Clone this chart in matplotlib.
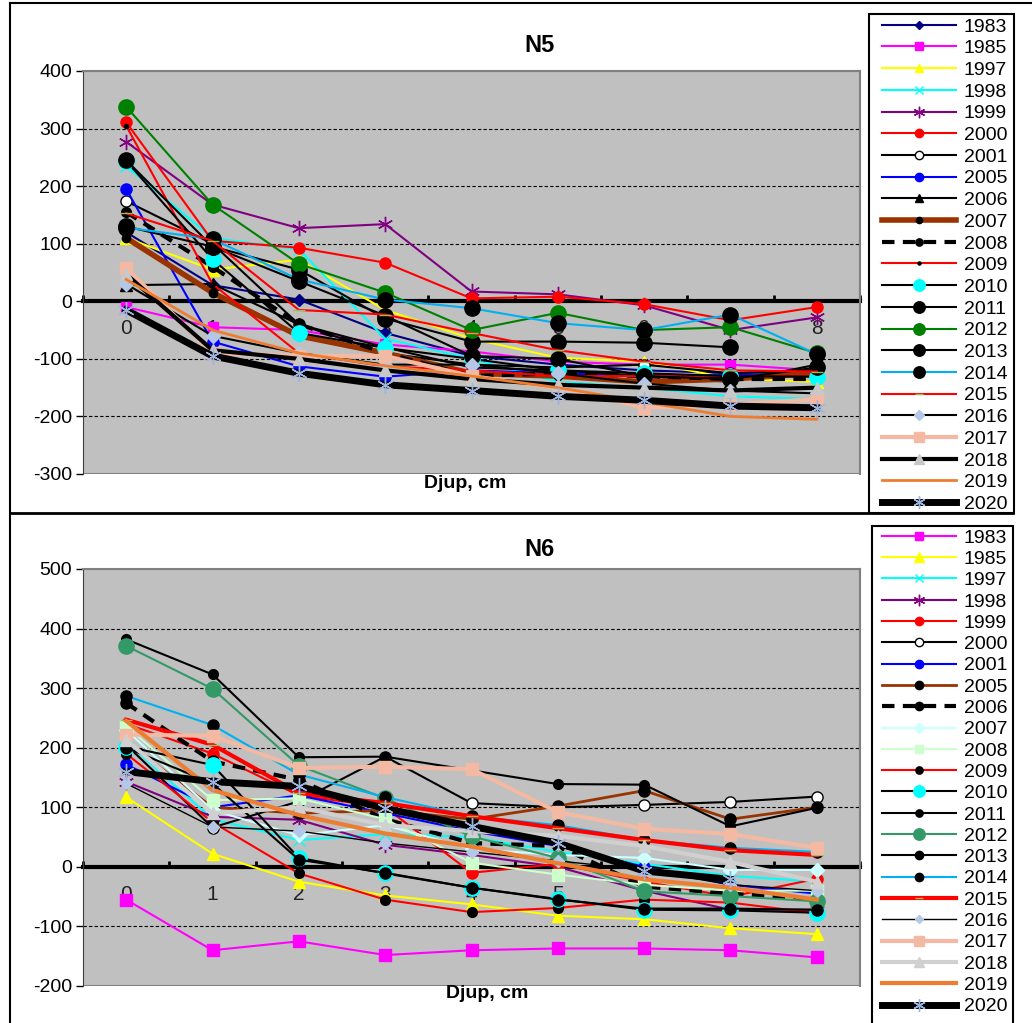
import numpy as np
import matplotlib.pyplot as plt
from matplotlib.patches import Rectangle
from matplotlib.lines import Line2D

plt.rcParams['font.family'] = ['Liberation Sans', 'DejaVu Sans']
plt.rcParams['axes.unicode_minus'] = False

nan = np.nan
depth = [0, 1, 2, 3, 4, 5, 6, 7, 8]

# ---- N5 ----
n5_years = ["1983", "1985", "1997", "1998", "1999", "2000", "2001", "2005", "2006", "2007", "2008",
            "2009", "2010", "2011", "2012", "2013", "2014", "2015", "2016", "2017", "2018", "2019", "2020"]
n5_values = [
    [120, 28, 3, -55, -95, -110, -120, -125, -120],      # 1983
    [-10, -45, -50, -75, -87, -105, -110, -110, -120],   # 1985
    [110, 55, 72, -15, -65, -98, -105, -134, -140],      # 1997
    [235, 110, 90, -65, -100, -140, -150, -165, -170],   # 1998
    [277, 168, 127, 134, 17, 12, -7, -50, -28],          # 1999
    [311, 105, 93, 67, 5, 8, -5, -33, -10],              # 2000
    [174, 100, -40, -90, -110, -115, -110, -125, -120],  # 2001
    [195, -70, -113, -131, -120, -125, -130, -128, -125],  # 2005
    [28, 30, -40, -80, -115, -120, -130, -140, -110],    # 2006
    [110, 15, -60, -90, -125, -130, -140, -135, -125],   # 2007
    [155, 60, -40, -90, -130, -125, -130, -135, -135],   # 2008
    [305, 30, -90, -113, -120, -130, -130, -130, -130],  # 2009
    [244, 73, -55, -81, -100, -120, -125, -130, -131],   # 2010
    [245, 95, 55, -30, -70, -70, -72, -80, nan],         # 2011
    [338, 168, 65, 15, -50, -20, -50, -45, -90],         # 2012
    [130, 95, 35, -25, -95, -100, -130, -135, -115],     # 2013
    [128, 108, 38, 3, -12, -38, -50, -23, -92],          # 2014
    [153, 105, -15, -23, -55, -85, -105, -120, -122],    # 2015
    [30, -60, -90, -110, -110, -125, -143, -155, -160],  # 2016
    [58, -90, -95, -95, -130, -150, -185, -180, -170],   # 2017
    [47, -85, -100, -120, -135, -145, -150, -155, -150],  # 2018
    [38, -50, -90, -112, -130, -150, -175, -200, -205],  # 2019
    [-15, -95, -125, -145, -155, -165, -172, -182, -185],  # 2020
]

# ---- N6 ----
n6_years = ["1983", "1985", "1997", "1998", "1999", "2000", "2001", "2005", "2006", "2007", "2008",
            "2009", "2010", "2011", "2012", "2013", "2014", "2015", "2016", "2017", "2018", "2019", "2020"]
n6_values = [
    [-55, -140, -125, -148, -140, -137, -137, -140, -152],  # 1983
    [117, 22, -25, -48, -63, -82, -88, -103, -113],      # 1985
    [210, 80, 45, 55, 50, 25, 5, -15, -25],              # 1997
    [143, 84, 79, 37, 20, 0, -40, -72, -72],             # 1998
    [240, 190, 120, 100, -10, 5, -25, -50, -20],         # 1999
    [205, 66, 110, 185, 107, 100, 104, 109, 118],        # 2000
    [172, 100, 120, 90, 60, 35, 0, -30, -45],            # 2001
    [210, 100, 90, 95, 80, 102, 128, 80, 100],           # 2005
    [275, 177, 146, 80, 40, 35, -33, -45, -55],          # 2006
    [230, 95, 53, 70, 30, 20, 15, -5, -5],               # 2007
    [236, 112, 115, 80, 7, -13, -30, -40, -40],          # 2008
    [190, 75, -11, -55, -76, -69, -55, -60, -78],        # 2009
    [202, 171, 15, -11, -35, -54, -72, -73, -77],        # 2010
    [382, 323, 184, 185, 162, 139, 138, 68, 99],         # 2011
    [371, 299, 170, 115, 51, 15, -41, -49, -58],         # 2012
    [200, 140, 12, -10, -35, -55, -70, -70, -72],        # 2013
    [287, 238, 155, 117, 85, 70, 45, 32, 25],            # 2014
    [247, 205, 124, 107, 85, 65, 45, 28, 20],            # 2015
    [140, 67, 60, 40, 25, 10, -5, -30, -40],             # 2016
    [222, 220, 166, 168, 164, 92, 64, 55, 32],           # 2017
    [213, 90, 100, 70, 60, 52, 35, 8, -25],              # 2018
    [245, 129, 87, 56, 34, 6, -21, -35, -55],            # 2019
    [160, 143, 135, 98, 68, 40, -7, -21, nan],           # 2020
]

STAR = (6, 2, 0)


def st(color, marker='o', mfc=None, mec=None, ms=7, lw=1.5, ls='-'):
    mfc = mfc or color
    return dict(color=color, marker=marker, mfc=mfc, mec=mec or mfc, ms=ms, lw=lw, ls=ls)


n5_styles = [
    st('#000080', 'D', ms=6),
    st('#FF00FF', 's', ms=7),
    st('#FFFF00', '^', ms=8),
    st('#00FFFF', 'x', ms=8),
    st('#800080', STAR, ms=11),
    st('#FF0000', 'o', ms=8),
    st('black', 'o', mfc='white', mec='black', ms=8),
    st('#0000FF', 'o', ms=8),
    st('black', '^', ms=8),
    st('#993300', 'o', mfc='black', ms=6, lw=4),
    st('black', 'o', ms=7, lw=3, ls=(0, (3, 2))),
    st('#FF0000', 'o', mfc='black', ms=3),
    st('black', 'o', mfc='#00FFFF', ms=11),
    st('black', 'o', ms=11),
    st('#008000', 'o', ms=11),
    st('black', 'o', ms=11),
    st('#00B0F0', 'o', mfc='black', ms=11),
    st('#FF0000', '_', mfc='#9BBB59', ms=8),
    st('black', 'D', mfc='#B4C7E7', ms=7),
    st('#F4B9A3', 's', ms=9, lw=3),
    st('black', '^', mfc='#C8C8C8', ms=9, lw=3),
    st('#ED7D31', 'None', lw=2),
    st('black', STAR, mfc='#9DB4E0', ms=12, lw=5),
]

n6_styles = [
    st('#FF00FF', 's', ms=8),
    st('#FFFF00', '^', ms=9),
    st('#00FFFF', 'x', ms=8),
    st('#800080', STAR, ms=11),
    st('#FF0000', 'o', ms=8),
    st('black', 'o', mfc='white', mec='black', ms=8),
    st('#0000FF', 'o', ms=8),
    st('#993300', 'o', mfc='black', ms=8, lw=2),
    st('black', 'o', ms=8, lw=3, ls=(0, (3, 2))),
    st('#CCFFFF', 'D', ms=7),
    st('#CCFFCC', 's', ms=8),
    st('#FF0000', 'o', mfc='black', ms=7),
    st('black', 'o', mfc='#00FFFF', ms=11),
    st('black', 'o', ms=7),
    st('#339966', 'o', ms=11),
    st('black', 'o', ms=8),
    st('#00B0F0', 'o', mfc='black', ms=8),
    st('#FF0000', '_', mfc='#9BBB59', ms=8, lw=3),
    st('black', 'D', mfc='#B4C7E7', ms=6, lw=1),
    st('#F4B9A3', 's', ms=9, lw=3),
    st('#D0D0D0', '^', ms=9, lw=3),
    st('#ED7D31', 'None', lw=3),
    st('black', STAR, mfc='#9DB4E0', ms=12, lw=5),
]

W, H = 1032, 1023
fig = plt.figure(figsize=(W / 100, H / 100), dpi=100)


def fx(x):
    return x / W


def fy(y):
    return 1 - y / H


def fig_line(x0, y0, x1, y1, lw=1.5):
    fig.add_artist(Line2D([fx(x0), fx(x1)], [fy(y0), fy(y1)], transform=fig.transFigure,
                          color='black', lw=lw))


def fig_rect(x0, y0, x1, y1, lw=1.5):
    fig.add_artist(Rectangle((fx(x0), fy(y1)), fx(x1) - fx(x0), fy(y0) - fy(y1),
                             transform=fig.transFigure, fill=False, ec='black', lw=lw))


def draw_panel(rect, years, values, styles, ylo, yhi, title, title_xy, xlab_xy, leg_xy, leg_space):
    ax = fig.add_axes(rect)
    ax.set_facecolor('#C0C0C0')
    for y in range(ylo + 100, yhi, 100):
        if y != 0:
            ax.axhline(y, color='black', lw=0.8, ls=(0, (3, 2)), zorder=0.5)
    handles = []
    for yr, vals, s in zip(years, values, styles):
        h, = ax.plot(depth, vals, label=yr, zorder=2, **s)
        handles.append(h)
    ax.set_xlim(-0.5, 8.5)
    ax.set_ylim(ylo, yhi)
    ax.set_yticks(np.arange(ylo, yhi + 1, 100))
    ax.set_xticks(depth)
    ax.set_xticks(np.arange(-0.5, 9, 1), minor=True)
    ax.tick_params(axis='x', which='major', length=0, pad=13, labelsize=15, labelcolor='#222222')
    ax.tick_params(axis='x', which='minor', length=4, width=2, direction='in')
    ax.tick_params(axis='y', length=5, width=1, direction='out', labelsize=14, pad=3)
    ax.spines['bottom'].set_position(('data', 0))
    ax.spines['bottom'].set_linewidth(3)
    ax.spines['bottom'].set_zorder(1.5)
    for sp in ['top', 'right']:
        ax.spines[sp].set_color('#808080')
        ax.spines[sp].set_linewidth(1.5)
    ax.spines['left'].set_color('#404040')
    ax.add_patch(Rectangle((0, 0), 1, 1, transform=ax.transAxes, fill=False,
                           ec='#808080', lw=1.5, zorder=0.6))
    fig.text(fx(title_xy[0]), fy(title_xy[1]), title, ha='center', va='center',
             fontsize=17, fontweight='bold')
    fig.text(fx(xlab_xy[0]), fy(xlab_xy[1]), 'Djup, cm', ha='center', va='center',
             fontsize=14, fontweight='bold')
    fig.legend(handles, years, loc='upper left', bbox_to_anchor=(fx(leg_xy[0]), fy(leg_xy[1])),
               frameon=False, borderpad=0, borderaxespad=0, fontsize=14, handlelength=3.8,
               handletextpad=0.4, labelspacing=leg_space, markerscale=0.75)
    return ax


draw_panel([fx(83), fy(474), fx(860) - fx(83), fy(71) - fy(474)],
           n5_years, n5_values, n5_styles, -300, 400, 'N5', (540, 45), (465, 484), (882, 18), 0.21)
draw_panel([fx(83), fy(986), fx(860) - fx(83), fy(569) - fy(986)],
           n6_years, n6_values, n6_styles, -200, 500, 'N6', (540, 550), (487, 993), (882, 529), 0.19)

# frames
fig_line(10, 3, W, 3)
fig_line(10, 3, 10, H)
fig_line(10, 513, 1013, 513, lw=2)
fig_rect(869, 14, 1014, 513)
fig_rect(872, 526, 1013, H + 10)

fig.savefig('out.png', dpi=100)
